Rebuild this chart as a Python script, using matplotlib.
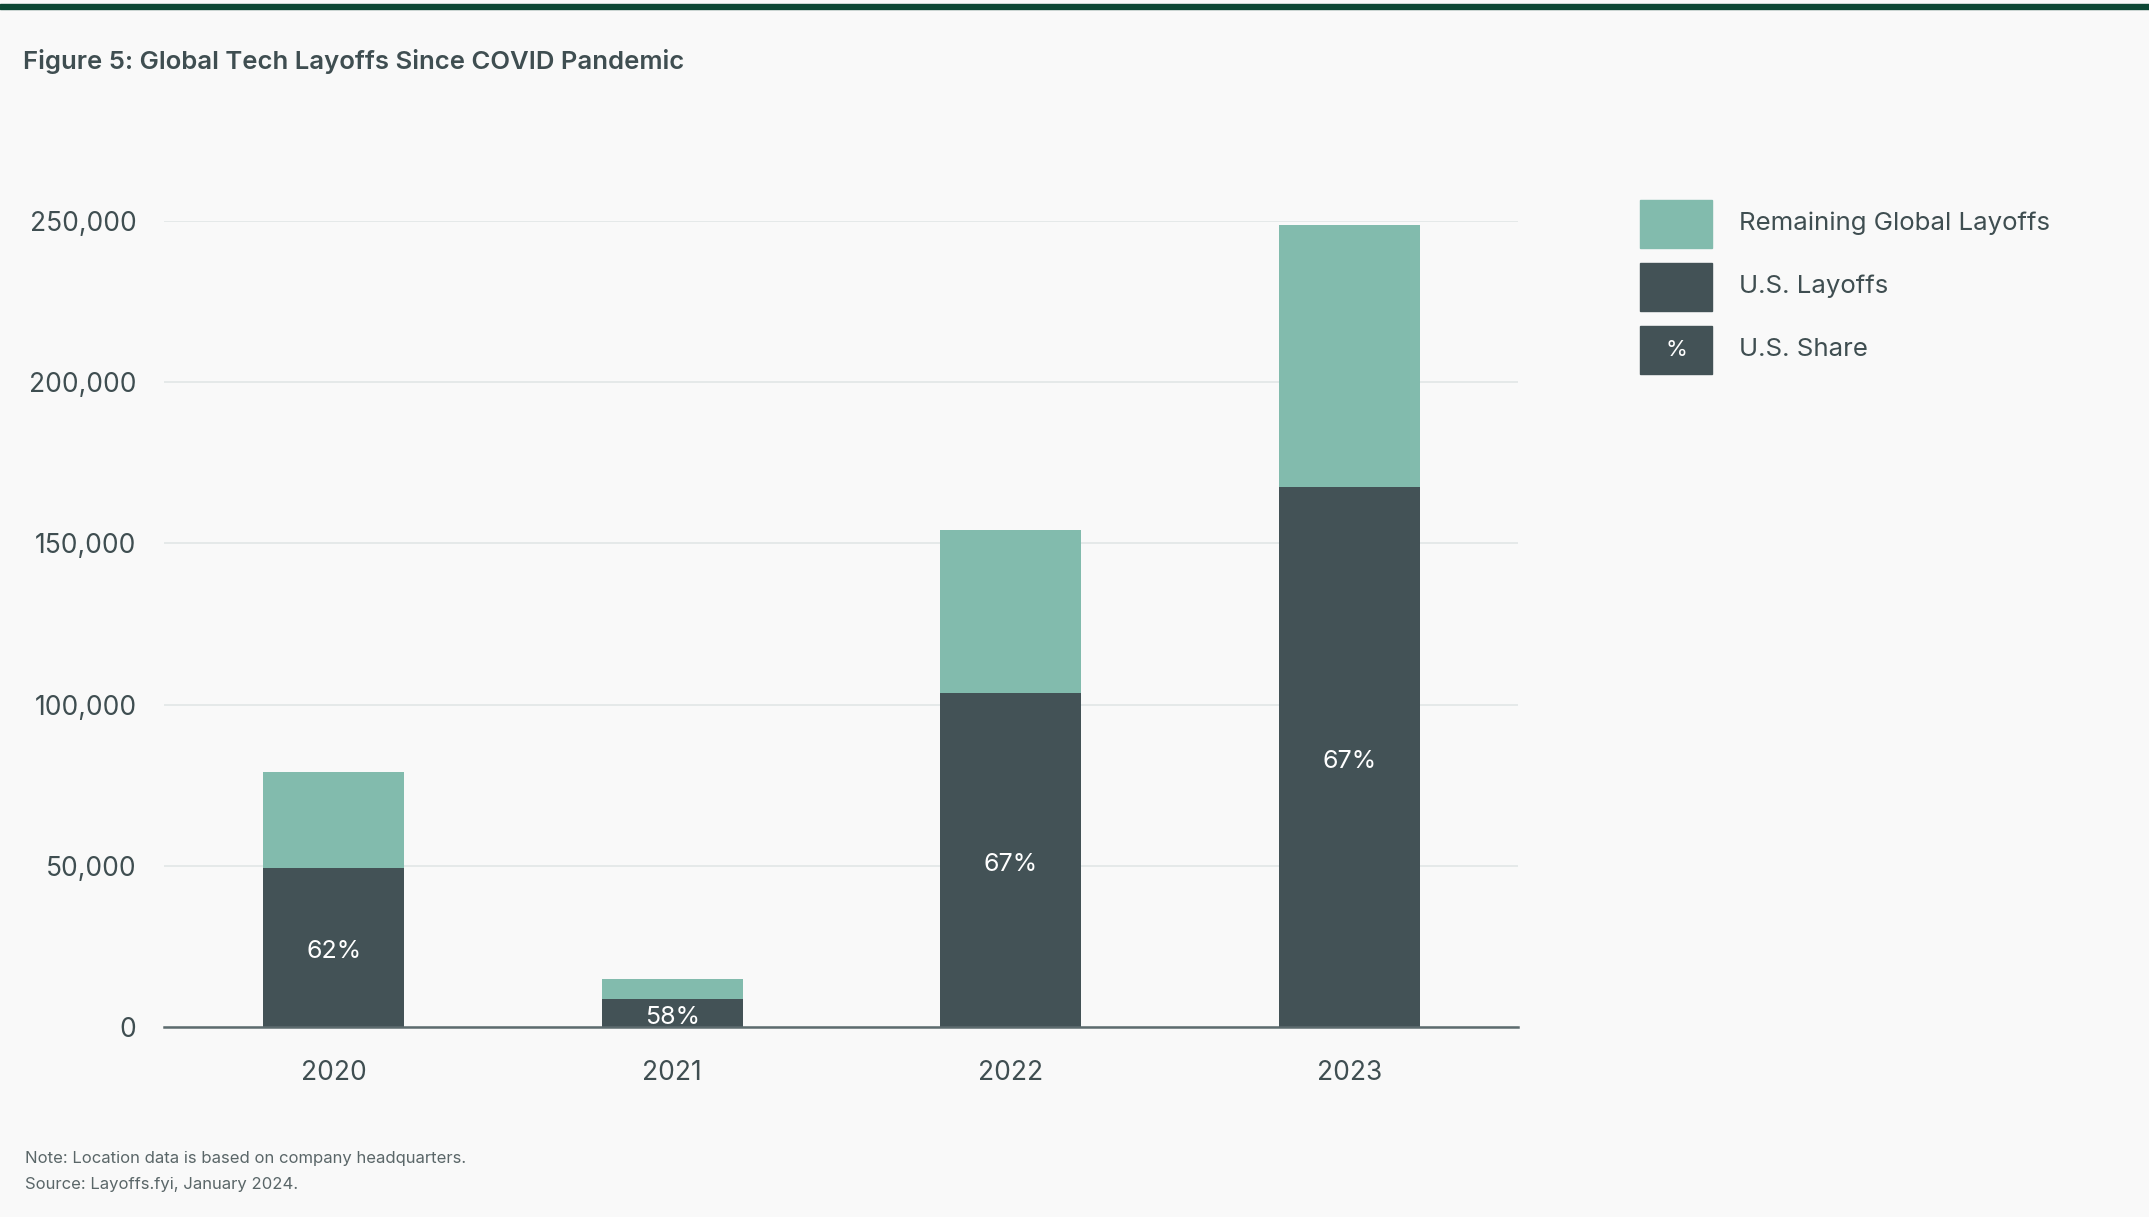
import matplotlib
matplotlib.use("Agg")
import matplotlib.pyplot as plt
from matplotlib.patches import Rectangle
from matplotlib.ticker import FuncFormatter

# Tech layoffs per year (layoffs.fyi), global total and U.S. portion
years = ["2020", "2021", "2022", "2023"]
global_total = [79100, 15000, 154300, 248700]
us_layoffs = [49300, 8700, 103700, 167500]
remaining = [g - u for g, u in zip(global_total, us_layoffs)]
us_share = [round(100 * u / g) for g, u in zip(global_total, us_layoffs)]

y_ticks = [0, 50000, 100000, 150000, 200000, 250000]

BG = "#f9f9f9"
TEAL = "#82bbad"
DARK = "#435256"
TEXT = "#3f4e51"
FONT = ["Inter", "DejaVu Sans"]

plt.rcParams["font.family"] = FONT

fig = plt.figure(figsize=(21.49, 12.17), dpi=100, facecolor=BG)
ax = fig.add_axes([0.0765, 0.1561, 0.6301, 0.6623], facecolor=BG)

x = range(len(years))
ax.bar(x, us_layoffs, width=0.417, color=DARK, zorder=3)
ax.bar(x, remaining, width=0.417, bottom=us_layoffs, color=TEAL, zorder=3)

for i, (u, s) in enumerate(zip(us_layoffs, us_share)):
    ax.annotate(f"{s}%", (i, u / 2), xytext=(0, -3), textcoords="offset points",
                ha="center", va="center", color="white", fontsize=18, zorder=4)

ax.set_xlim(-0.5, 3.5)
ax.set_ylim(0, 250000)
ax.set_yticks(y_ticks)
ax.yaxis.set_major_formatter(FuncFormatter(lambda v, p: f"{int(v):,}"))
ax.set_xticks(list(x))
ax.set_xticklabels(years)
ax.tick_params(axis="both", length=0, labelsize=19, colors=TEXT)
ax.tick_params(axis="y", pad=20)
ax.tick_params(axis="x", pad=24)
ax.grid(axis="y", color="#e2e6e6", linewidth=1.2, zorder=0)
for side in ["top", "right", "left"]:
    ax.spines[side].set_visible(False)
ax.spines["bottom"].set_color("#5d6b6e")
ax.spines["bottom"].set_linewidth(1.8)
ax.spines["bottom"].set_zorder(5)

# dark green rule across the top
fig.patches.append(Rectangle((0, 1 - 9 / 1217), 1, 5 / 1217, transform=fig.transFigure,
                             color="#0b4633", zorder=0))

fig.text(23 / 2149, 1 - 62 / 1217, "Figure 5: Global Tech Layoffs Since COVID Pandemic",
         fontsize=18.5, fontweight="semibold", color=TEXT, va="center", ha="left")

# legend
legend_items = [(TEAL, "Remaining Global Layoffs", ""),
                (DARK, "U.S. Layoffs", ""),
                (DARK, "U.S. Share", "%")]
box_w, box_h = 72, 48
for k, (col, label, inner) in enumerate(legend_items):
    yc = 224 + k * 63.1
    fig.patches.append(Rectangle((1640 / 2149, 1 - (yc + box_h / 2) / 1217),
                                 box_w / 2149, box_h / 1217,
                                 transform=fig.transFigure, color=col))
    if inner:
        fig.text((1640 + box_w / 2) / 2149, 1 - yc / 1217, inner, color="white",
                 fontsize=16, ha="center", va="center")
    fig.text(1739 / 2149, 1 - (yc - 1) / 1217, label, color=TEXT, fontsize=18.6,
             ha="left", va="center")

fig.text(25 / 2149, 1 - 1159 / 1217, "Note: Location data is based on company headquarters.",
         fontsize=12, color="#5a6668", va="center")
fig.text(25 / 2149, 1 - 1185 / 1217, "Source: Layoffs.fyi, January 2024.",
         fontsize=12, color="#5a6668", va="center")

fig.savefig("out.png", dpi=100, facecolor=BG)
